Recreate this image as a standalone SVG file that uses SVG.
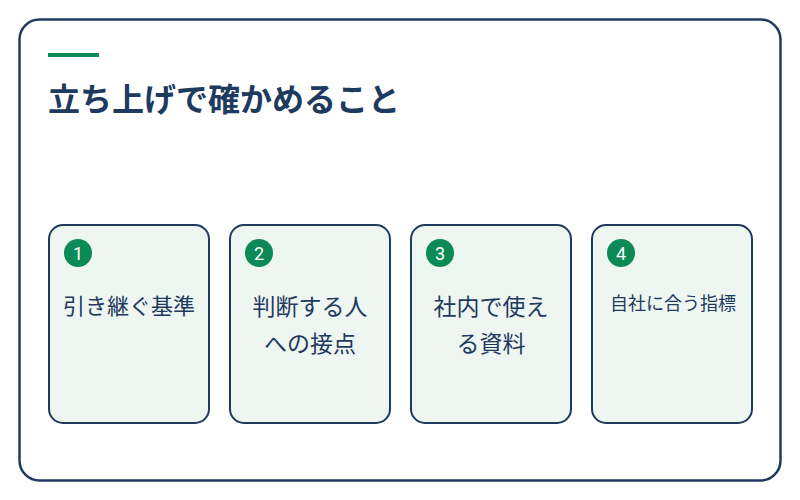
<svg xmlns="http://www.w3.org/2000/svg" width="800" height="500" viewBox="0 0 800 500">
<style>
.card{fill:#eef6f1;stroke:#1e3a5f;stroke-width:2}
.badge{fill:#0b8a57}
.num{fill:#ffffff;font-family:Roboto,"Noto Sans",sans-serif;font-size:18px;text-anchor:middle}
.lbl{fill:#1e3a5f;font-family:"Noto Sans CJK JP",sans-serif;font-size:23px;text-anchor:middle}
</style>
<rect x="0" y="0" width="800" height="500" fill="#ffffff"/>
<rect x="19.5" y="19.5" width="761" height="461" rx="20" fill="#ffffff" stroke="#1e3a5f" stroke-width="2.5"/>
<rect x="48" y="53" width="51" height="4" fill="#0b8a57"/>
<text x="48" y="111" font-family="Noto Sans CJK JP, sans-serif" font-size="32" font-weight="bold" fill="#1e3a5f">立ち上げで確かめること</text>
<g id="card1">
<rect class="card" x="49" y="225" width="160" height="198" rx="14"/>
<circle class="badge" cx="78" cy="253" r="14"/>
<text class="num" x="78" y="259.5">1</text>
<text class="lbl" x="129" y="314" style="font-size:22px">引き継ぐ基準</text>
</g>
<g id="card2">
<rect class="card" x="230" y="225" width="160" height="198" rx="14"/>
<circle class="badge" cx="259" cy="253" r="14"/>
<text class="num" x="259" y="259.5">2</text>
<text class="lbl" x="310" y="315">判断する人</text>
<text class="lbl" x="310" y="352">への接点</text>
</g>
<g id="card3">
<rect class="card" x="411" y="225" width="160" height="198" rx="14"/>
<circle class="badge" cx="440" cy="253" r="14"/>
<text class="num" x="440" y="259.5">3</text>
<text class="lbl" x="491" y="315">社内で使え</text>
<text class="lbl" x="491" y="352">る資料</text>
</g>
<g id="card4">
<rect class="card" x="592" y="225" width="160" height="198" rx="14"/>
<circle class="badge" cx="621" cy="253" r="14"/>
<text class="num" x="621" y="259.5">4</text>
<text class="lbl" x="673" y="310" style="font-size:18px">自社に合う指標</text>
</g>
<g id="connectors"></g>
</svg>
